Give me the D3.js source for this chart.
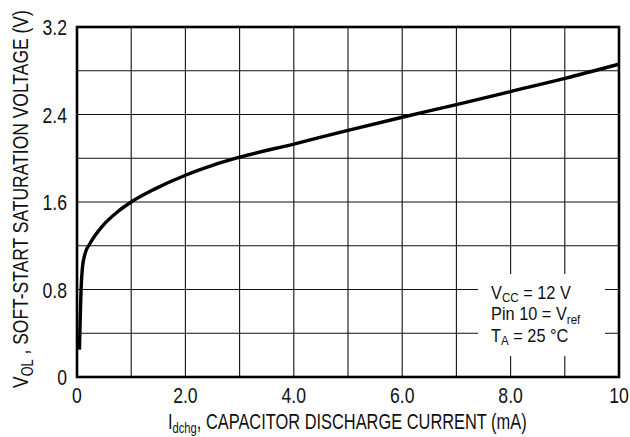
<!DOCTYPE html>
<html>
<head>
<meta charset="utf-8">
<script src="https://cdn.jsdelivr.net/npm/d3@7/dist/d3.min.js"></script>
<style>
  body { margin: 0; background: #fff; }
  text { font-family: "Liberation Sans", Arial, sans-serif; fill: #111; }
</style>
</head>
<body>
<div id="chart"></div>
<script>
// curve (mA, V)
const currentMA = [0.045, 0.06, 0.075, 0.1, 0.15, 0.24, 0.47, 0.76, 1.0, 1.44, 2.0, 2.5, 3.0, 4.0, 5.0, 6.0, 7.0, 8.0, 9.0, 10.0];
const voltage   = [0.25, 0.55, 0.8, 1.0, 1.13, 1.22, 1.38, 1.515, 1.6, 1.72, 1.845, 1.935, 2.01, 2.13, 2.255, 2.375, 2.49, 2.61, 2.73, 2.86];
const xTicks = [0, 2, 4, 6, 8, 10];
const xTickLabels = ["0", "2.0", "4.0", "6.0", "8.0", "10"];
const yTicks = [0, 0.8, 1.6, 2.4, 3.2];
const yTickLabels = ["0", "0.8", "1.6", "2.4", "3.2"];
const xGrid = d3.range(0, 11, 1);
const yGrid = [0, 0.4, 0.8, 1.2, 1.6, 2.0, 2.4, 2.8, 3.2];

const width = 630, height = 437;
const margin = {left: 77, right: 11, top: 27, bottom: 60};
const narrow = 0.8; // datasheet uses a condensed face

const svg = d3.select("#chart").append("svg")
    .attr("width", width)
    .attr("height", height);

const x = d3.scaleLinear().domain([0, 10]).range([margin.left, width - margin.right]);
const y = d3.scaleLinear().domain([0, 3.2]).range([height - margin.bottom, margin.top]);

// grid
const grid = svg.append("g").attr("class", "grid");
grid.selectAll("line.v").data(xGrid).enter().append("line")
    .attr("x1", d => x(d)).attr("x2", d => x(d))
    .attr("y1", y(0)).attr("y2", y(3.2))
    .attr("stroke", "#111").attr("stroke-width", 1.1);
grid.selectAll("line.h").data(yGrid).enter().append("line")
    .attr("x1", x(0)).attr("x2", x(10))
    .attr("y1", d => y(d)).attr("y2", d => y(d))
    .attr("stroke", "#111").attr("stroke-width", 1.1);

// curve
const pts = currentMA.map((c, i) => [c, voltage[i]]);
const line = d3.line().x(d => x(d[0])).y(d => y(d[1])).curve(d3.curveMonotoneX);
svg.append("path")
    .datum(pts)
    .attr("d", line)
    .attr("fill", "none")
    .attr("stroke", "#000")
    .attr("stroke-width", 3.4)
    .attr("stroke-linejoin", "round");

// legend box covering grid
const lg = svg.append("g").attr("class", "legend");
lg.append("rect")
    .attr("x", 478).attr("y", 274)
    .attr("width", 127).attr("height", 82)
    .attr("fill", "#fff");
const legendLines = [
    {main: "V", sub: "CC", rest: " = 12 V"},
    {main: "Pin 10 = V", sub: "ref", rest: ""},
    {main: "T", sub: "A", rest: " = 25 °C"}
];
legendLines.forEach((l, i) => {
    const g = lg.append("g")
        .attr("transform", `translate(491,${298.5 + i * 21.7}) scale(0.86,1)`);
    const t = g.append("text").style("font-size", "19px");
    t.append("tspan").text(l.main);
    t.append("tspan").attr("dy", 3.5).style("font-size", "13.5px").text(l.sub);
    if (l.rest) t.append("tspan").attr("dy", -3.5).text(l.rest);
});

// frame
svg.append("rect")
    .attr("x", x(0)).attr("y", y(3.2))
    .attr("width", x(10) - x(0)).attr("height", y(0) - y(3.2))
    .attr("fill", "none").attr("stroke", "#000").attr("stroke-width", 2.6);

// tick labels
svg.selectAll("text.xt").data(xTicks).enter().append("text")
    .attr("class", "xt")
    .attr("transform", d => `translate(${x(d)},403) scale(${narrow},1)`)
    .attr("text-anchor", "middle")
    .style("font-size", "22px")
    .text((d, i) => xTickLabels[i]);
svg.selectAll("text.yt").data(yTicks).enter().append("text")
    .attr("class", "yt")
    .attr("transform", d => `translate(67,${y(d) + 8}) scale(${narrow},1)`)
    .attr("text-anchor", "end")
    .style("font-size", "22px")
    .text((d, i) => yTickLabels[i]);

// axis titles, squeezed horizontally to the width they take in the datasheet
function squeeze(sel, target) {
    const w = sel.node().getBBox().width;
    return w > 0 ? target / w : 1;
}

const xtG = svg.append("g");
const xt = xtG.append("text").style("font-size", "22px");
xt.append("tspan").text("I");
xt.append("tspan").attr("dy", 4).style("font-size", "15px").text("dchg");
xt.append("tspan").attr("dy", -4).text(", CAPACITOR DISCHARGE CURRENT (mA)");
xtG.attr("transform", `translate(168,429) scale(${squeeze(xt, 359)},1)`);

const ytG = svg.append("g");
const yt = ytG.append("text").style("font-size", "22px");
yt.append("tspan").text("V");
yt.append("tspan").attr("dy", 5).style("font-size", "16px").text("OL");
yt.append("tspan").attr("dy", -5).text(" , SOFT-START SATURATION VOLTAGE (V)");
ytG.attr("transform", `translate(28,388) rotate(-90) scale(${squeeze(yt, 378)},1)`);
</script>
</body>
</html>
